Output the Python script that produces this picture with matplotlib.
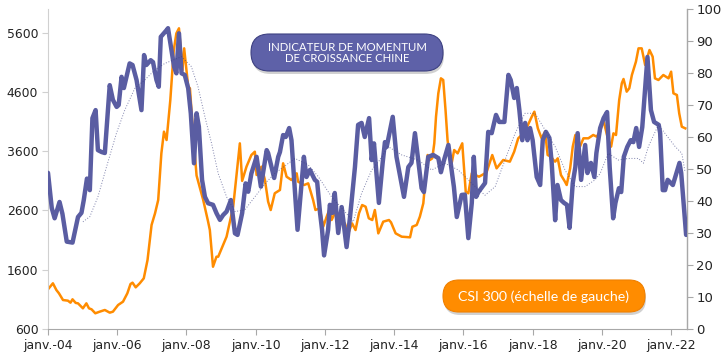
import matplotlib
matplotlib.use("Agg")
import matplotlib.pyplot as plt
from matplotlib.patches import FancyBboxPatch
import numpy as np

# ---------------- data ----------------
# x values are months since janv. 2004
csi_months = [0, 1.7, 2.9, 3.8, 5.2, 6.9, 7.8, 8.5, 9.6, 10.4, 12.1, 13.3, 14.2, 15.1, 16.4, 17.9,
              19.7, 21.4, 22.5, 24.3, 26, 27.5, 28.6, 29.3, 30.4, 31.8, 33.2, 34.5, 35.9, 37.1, 38.2,
              39.3, 40.2, 41.1, 42.4, 43.6, 44.5, 45.4, 46.6, 47.2, 48.6, 49.2, 50.3, 51.5, 53.8,
              55.5, 56.1, 57.2, 58.4, 59.0, 60.7, 61.9, 64.2, 66.5, 67.3, 68.8, 70.5, 71.7, 72.3,
              74, 75.2, 76.3, 77.2, 78.6, 80.4, 81.5, 82.7, 84.4, 86.2, 86.7, 88.8, 90.2, 91.9,
              92.7, 94.2, 95.4, 96.6, 97.7, 98.3, 99.7, 100.8, 102.9, 104.1, 105.4, 106.6, 107.8,
              108.9, 110.1, 111.2, 112.4, 113.3, 114.5, 116.2, 118.2, 118.9, 120.5, 122.6, 125.5,
              126.3, 127.8, 128.9, 130.1, 131.6, 132.4, 133.2, 133.9, 134.5, 135.3, 136.2, 137,
              137.8, 138.5, 139.7, 140.8, 142, 143.6, 144.8, 145.7, 146.9, 149.4, 151.5, 152.1,
              154, 155.5, 157.8, 160.1, 161.6, 163, 164.2, 165.3, 167.7, 168.6, 169.8, 171.1,
              172.3, 173.2, 174.4, 175.2, 175.8, 176.7, 177.8, 179.2, 179.8, 181, 181.9, 182.8,
              184.4, 185.6, 187.3, 189, 190.2, 191.4, 192.5, 194.2, 195.2, 196, 196.9, 198,
              198.9, 199.5, 200.6, 201.5, 202.4, 203.8, 204.7, 205.8, 207, 208.5, 209.6, 210.4,
              211.6, 213.3, 215.1, 216, 216.8, 218, 218.8, 219.7, 220.9]
csi_values = [1270, 1371, 1258, 1202, 1089, 1078, 1044, 1101, 1040, 1033, 949, 1033, 949, 932, 865, 892,
              921, 876, 892, 1005, 1061, 1202, 1359, 1382, 1303, 1371, 1455, 1764, 2355, 2552, 2777,
              3565, 3930, 3789, 4464, 5308, 5589, 5674, 4970, 5336, 4689, 4662, 3902, 3190, 2777,
              2411, 2270, 1651, 1820, 1820, 2017, 2158, 2664, 3733, 3100, 3339, 3536, 3592, 3199,
              3339, 3114, 2750, 2608, 2890, 2946, 3396, 3170, 3114, 3227, 3086, 3030, 3058, 2777,
              2608, 2636, 2326, 2495, 2636, 2439, 2580, 2439, 2383, 2214, 2383, 2270, 2552,
              2692, 2664, 2468, 2439, 2608, 2214, 2411, 2439, 2400, 2214, 2158, 2147,
              2326, 2355, 2495, 2721, 3536, 3452, 3480, 3733, 4183, 4577, 4830, 4802,
              4295, 3789, 3339, 3620, 3564, 3733, 2917, 2890, 3227, 3170, 3227, 3255,
              3536, 3311, 3452, 3424, 3592, 3818, 3874, 3930, 4183, 4267, 3986, 3818,
              3930, 3536, 3508, 3452, 3424, 3480, 3199, 3086, 3030, 3311, 3677, 3874,
              3677, 3818, 3818, 3874, 3846, 3930, 4127, 3789, 3677, 3902, 3874, 4464,
              4746, 4819, 4605, 4662, 4886, 5111, 5336, 5336, 5055, 5308, 5195, 4830,
              4802, 4886, 4830, 4942, 4577, 4549, 4240, 4014, 3986]

momentum_months = [0, 1.3, 2.3, 4, 5, 6.5, 8.5, 10.4, 11.6, 12.4, 13.5, 14.5, 15.4, 16.5, 17.3, 18.6,
                   19.7, 21.4, 22.5, 23.8, 24.5, 25.5, 26.3, 28.3, 29.3, 30.7, 32.4, 33.3, 34.1,
                   35.6, 36.4, 37.6, 38.4, 39.1, 41.1, 41.6, 42.8, 43.7, 44.5, 45.4, 46.3, 47.4,
                   48.6, 49.5, 50.6, 51.5, 52.3, 53.4, 54.4, 55.5, 57.2, 58.4, 59.6, 60.7, 61.9,
                   63.4, 64.8, 65.7, 67.3, 68.5, 69.4, 70.5, 72.3, 73.8, 75.8, 76.3, 78.4, 79.8,
                   80.4, 81.5, 82.4, 83.6, 84.4, 86.5, 88.7, 89.6, 90.8, 92.5, 93.3, 94.3, 95,
                   95.7, 97.1, 97.7, 98.6, 99.4, 100.6, 101.8, 103.5, 104.7, 106.4, 107.5, 108.7,
                   109.8, 111.3, 112.2, 113, 114.7, 116, 116.8, 117.4, 119.5, 120.8, 122, 123.4,
                   124.9, 126, 127.2, 129.5, 130.3, 131.8, 133.5, 135.3, 136.2, 137, 138.8, 139.9,
                   140.7, 141.7, 143.4, 144.5, 145.7, 146.9, 147.6, 148.4, 149.2, 151.5, 152.6,
                   153.8, 155.3, 156.4, 158.2, 159.6, 160.4, 161.6, 162.5, 163.4, 164.4, 165.4,
                   166.2, 167.1, 168, 169.4, 170.6, 171.5, 172.6, 173.8, 174.6, 175.8, 176.6,
                   177.8, 178.9, 179.9, 180.8, 181.9, 182.8, 183.6, 184.8, 186.2, 187, 188.2,
                   189.4, 190.1, 191.4, 192.6, 193.8, 194.7, 195.9, 196.7, 197.9, 198.7, 199.6,
                   200.8, 202, 202.9, 203.9, 204.9, 206, 207.8, 209, 210.1, 211.7, 212.2, 213.1,
                   213.9, 214.8, 216.6, 218.9, 219.5, 221.2]
momentum_values = [48.8, 37.8, 34.6, 39.7, 36, 27.3, 27.0, 35, 36.3, 40.3, 47, 43.4, 65.9, 68.4, 55.9, 55.3,
                   55, 76.2, 71.6, 69.4, 70, 78.8, 75.3, 83, 82.5, 77.8, 68.4, 85.6, 82.5,
                   84, 83.4, 77.8, 75.7, 91.3, 93.4, 94, 87.2, 82, 79.9, 92.4, 79.9, 79.4,
                   75.2, 67.4, 51.8, 67.4, 63.2, 46.6, 41.3, 39.3, 38.8, 36.2, 34.1, 35.6, 36.7,
                   40.3, 29.9, 29.4, 36.2, 45.5, 42.9, 48.6, 53.8, 44.5, 55.9, 55, 47.2, 53.8,
                   55.3, 60.6, 60, 62.8, 59, 31, 53.8, 47.5, 49.7, 46.6, 46, 36.3, 31,
                   23, 31, 38.8, 36.3, 42.5, 30, 38.1, 25.6, 35, 50.6, 63.8, 64.4,
                   60, 65.9, 52.8, 58, 39.4, 51.9, 58.4, 56.9, 66.3, 53.8, 48.1, 41.3,
                   50.6, 51.9, 61.2, 44, 42.8, 53.8, 54.4, 53.4, 49, 51.9, 57.5, 49.7,
                   44.4, 35, 41.9, 42, 28.4, 39.4, 53.8, 41.3, 42.8, 45.6, 61.6,
                   61.2, 66.9, 64.7, 64.7, 79.4, 77.8, 72.2, 75.3, 68.4, 59, 64.4,
                   59, 62.8, 59, 47.5, 45, 59, 61.6, 59.7, 51.9, 34, 45,
                   40.3, 39.4, 38.8, 31.6, 45.6, 50.6, 61.2, 46.6, 57.5, 48.75, 51.9,
                   47.5, 55, 62.8, 65.9, 67.8, 50.6, 34.6, 39.4, 44, 42.8, 53.8,
                   56.9, 59, 58.4, 62.8, 56.9, 63.1, 85, 68.4, 64.7, 63.8, 61.2, 43.4,
                   43.4, 46.6, 45, 51.9, 48.75, 29.4]

trend_months = [12.1, 14.5, 17.3, 20.3, 23.7, 26.6, 30.1, 33.5, 37, 40.5, 46.3, 49.7, 52, 54.4, 56.7,
                59, 61.9, 64.8, 68.2, 71.7, 75.8, 78.6, 85.6, 90.2, 93.7, 98.3, 102.9, 105.8,
                108.7, 112.2, 115, 117.9, 122.6, 128.3, 133, 137.6, 142.2, 146.9, 151.5, 155,
                158.4, 161.9, 165.3, 168.8, 172.3, 175.8, 179.2, 182.7, 186.2, 189.6, 191.4,
                194.2, 197.7, 201.2, 204.7, 206.4, 208.1, 211.6, 213.9, 217.4, 219.7, 220.8]
trend_values = [33.5, 35.1, 41.3, 50.7, 61.1, 68.4, 75.2, 77.8, 80.9, 83, 85.1, 82, 75.7, 66.3, 58,
                48.6, 41.3, 36.7, 37.2, 41.3, 46, 48.6, 53.3, 51.3, 47.6, 41.3, 36.7, 33.5,
                42.4, 49.7, 52.8, 57, 54.4, 52.8, 49.7, 51.8, 49.7, 45.5, 41.8, 44.5,
                52.8, 61.1, 67.4, 67.4, 62.2, 57, 49.7, 44.5, 44.5, 46.6, 48.6,
                54.9, 52.8, 53.3, 53.3, 51.8, 57, 63.8, 61.1, 57, 54.9, 49.2]

tick_years = [2004, 2006, 2008, 2010, 2012, 2014, 2016, 2018, 2020, 2022]
tick_labels = ["janv.-04", "janv.-06", "janv.-08", "janv.-10", "janv.-12",
               "janv.-14", "janv.-16", "janv.-18", "janv.-20", "janv.-22"]
left_ticks = [600, 1600, 2600, 3600, 4600, 5600]
right_ticks = list(range(0, 101, 10))

title_text = "INDICATEUR DE MOMENTUM\nDE CROISSANCE CHINE"
csi_text = "CSI 300 (échelle de gauche)"

# ---------------- figure ----------------
W, H = 726, 352
fig = plt.figure(figsize=(W / 100, H / 100), dpi=100)
ax = fig.add_axes([48 / W, 1 - 329 / H, (686.7 - 48) / W, (329 - 9) / H])
ax2 = ax.twinx()

to_year = lambda m: 2004 + np.asarray(m) / 12.0

ORANGE = "#FF8C00"
PURPLE = "#5A5DA2"
DOT = "#3C4180"

ax.plot(to_year(csi_months), csi_values, color=ORANGE, lw=1.8, solid_joinstyle="round", zorder=2)
ax2.plot(to_year(momentum_months), momentum_values, color=PURPLE, lw=3.2,
         solid_joinstyle="round", solid_capstyle="round", zorder=3)
ax2.plot(to_year(trend_months), trend_values, color=DOT, lw=0.7, ls=(0, (1, 1.8)), alpha=0.65, zorder=4)

ax.set_xlim(2004, 2004 + 221.4 / 12)
ax.set_ylim(600, 6000)
ax2.set_ylim(0, 100)
ax.set_xticks(tick_years)
ax.set_xticklabels(tick_labels)
ax.set_yticks(left_ticks)
ax2.set_yticks(right_ticks)

for a in (ax, ax2):
    a.spines["top"].set_visible(False)
ax.spines["left"].set_color("#D0D0D0")
ax.spines["bottom"].set_color("#A8A8A8")
ax2.spines["right"].set_color("#A8A8A8")
ax2.spines["left"].set_visible(False)
ax2.spines["bottom"].set_visible(False)

ax.tick_params(axis="x", direction="out", length=4, color="#A8A8A8", labelsize=8.9,
               labelcolor="#222222", pad=3)
ax.tick_params(axis="y", direction="out", length=4, color="#D0D0D0", labelsize=8.9,
               labelcolor="#222222", pad=3)
ax2.tick_params(axis="y", direction="out", length=4, color="#A8A8A8", labelsize=9.5,
                labelcolor="#222222", pad=3)

# ---------------- overlay for pills ----------------
ov = fig.add_axes([0, 0, 1, 1], zorder=10)
ov.set_xlim(0, W)
ov.set_ylim(H, 0)
ov.axis("off")


def pill(x0, y0, x1, y1, face, edge):
    h = y1 - y0
    sh = FancyBboxPatch((x0 + 1, y0 + 3), x1 - x0, h,
                        boxstyle=f"round,pad=0,rounding_size={h / 2}",
                        fc="#000000", ec="none", alpha=0.18)
    ov.add_patch(sh)
    p = FancyBboxPatch((x0, y0), x1 - x0, h,
                       boxstyle=f"round,pad=0,rounding_size={h / 2}",
                       fc=face, ec=edge, lw=0.8)
    ov.add_patch(p)


pill(251, 34, 443, 71, "#5E61A8", "#3E4182")
ov.text(347, 53, title_text, ha="center", va="center", color="white",
        fontsize=8.2, family="Lato", linespacing=1.05)

pill(443, 280, 645, 312, ORANGE, "#F08000")
ov.text(544, 296.5, csi_text, ha="center", va="center", color="white",
        fontsize=10.2, family="Lato")

fig.savefig("out.png", dpi=100)
